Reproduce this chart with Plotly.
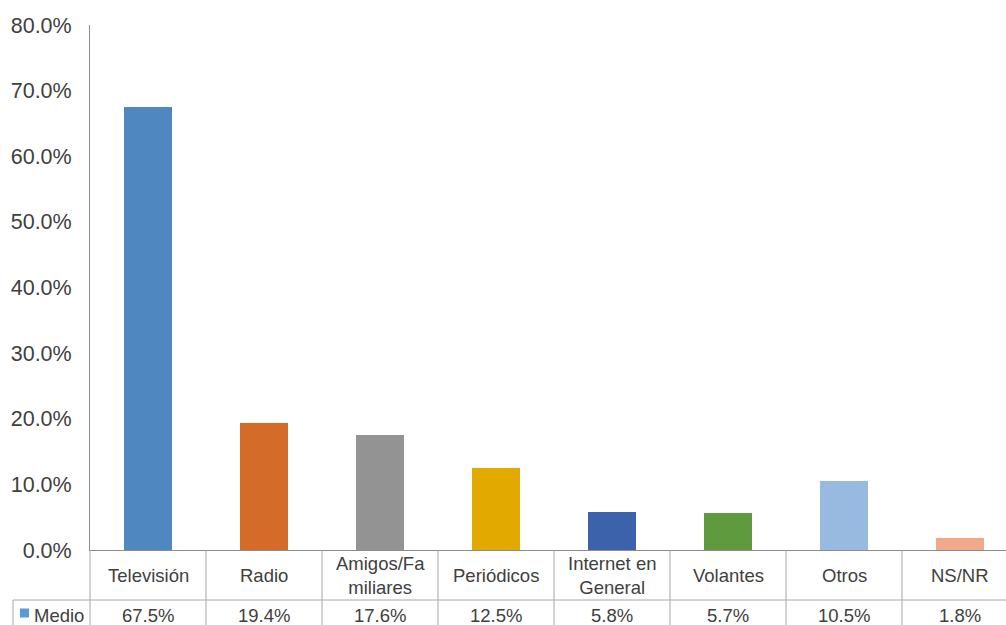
import plotly.graph_objects as go

categories = ["Televisión", "Radio", "Amigos/Familiares", "Periódicos",
              "Internet en General", "Volantes", "Otros", "NS/NR"]
table_labels = ["Televisión", "Radio", "Amigos/Fa<br>miliares", "Periódicos",
                "Internet en<br>General", "Volantes", "Otros", "NS/NR"]
values = [67.5, 19.4, 17.6, 12.5, 5.8, 5.7, 10.5, 1.8]
series_name = "Medio"
bar_colors = ["#4F88C0", "#D46B29", "#939393", "#E2A900",
              "#3C62AC", "#5F9A3E", "#98B9E0", "#F2A98A"]
y_ticks = [0, 10, 20, 30, 40, 50, 60, 70, 80]

W, H = 1006, 625
L, T, B = 90, 25, 75
plot_w = W - L
plot_h = H - T - B
cat_w = 116  # pixels per category
x_max = -0.5 + plot_w / cat_w

def py(ypx):
    return (H - B - ypx) / plot_h

def px_x(xpx):
    return (xpx - L) / plot_w

text_color = "#404040"
line_color = "#A6A6A6"
font = "Liberation Sans, Arial, sans-serif"

fig = go.Figure()
fig.add_trace(go.Bar(
    x=list(range(len(categories))), y=values, name=series_name,
    marker=dict(color=bar_colors, line=dict(width=0)),
    width=0.41, showlegend=False,
    hovertext=categories,
))

shapes = []
# horizontal lines of the data table
shapes.append(dict(type="line", xref="paper", yref="paper",
                   x0=px_x(13), x1=1.0, y0=py(600), y1=py(600),
                   line=dict(color=line_color, width=1)))
shapes.append(dict(type="line", xref="paper", yref="paper",
                   x0=px_x(13), x1=px_x(13), y0=py(600), y1=py(630),
                   line=dict(color=line_color, width=1)))
# vertical separators between categories
for k in range(1, len(categories)):
    xp = (k * cat_w) / plot_w
    if xp <= 1:
        shapes.append(dict(type="line", xref="paper", yref="paper",
                           x0=xp, x1=xp, y0=py(550), y1=py(630),
                           line=dict(color=line_color, width=1)))
shapes.append(dict(type="line", xref="paper", yref="paper",
                   x0=0, x1=0, y0=py(550), y1=py(630),
                   line=dict(color=line_color, width=1)))
# legend key
shapes.append(dict(type="rect", xref="paper", yref="paper",
                   x0=px_x(20), x1=px_x(29), y0=py(617.5), y1=py(608.5),
                   fillcolor="#5B9BD5", line=dict(width=0)))

annotations = []
for i, (lab, v) in enumerate(zip(table_labels, values)):
    annotations.append(dict(x=i, xref="x", y=py(575), yref="paper",
                            text=lab, showarrow=False, yanchor="middle",
                            xanchor="center",
                            font=dict(family=font, size=18.5, color=text_color)))
    annotations.append(dict(x=i, xref="x", y=py(615), yref="paper",
                            text=f"{v:.1f}%", showarrow=False, yanchor="middle",
                            xanchor="center",
                            font=dict(family=font, size=18.5, color=text_color)))
annotations.append(dict(x=px_x(32), xref="paper", y=py(615), yref="paper",
                        text=series_name, showarrow=False, yanchor="middle",
                        xanchor="left",
                        font=dict(family=font, size=18.5, color=text_color)))

fig.update_layout(
    width=W, height=H,
    margin=dict(l=L, r=0, t=T, b=B, pad=0),
    paper_bgcolor="white", plot_bgcolor="white",
    shapes=shapes, annotations=annotations,
    bargap=0,
)
fig.update_xaxes(range=[-0.5, x_max], showticklabels=False, showgrid=False,
                 zeroline=False, showline=True, linecolor="#8C8C8C", linewidth=1,
                 ticks="", fixedrange=True)
fig.update_yaxes(range=[0, 80], tickvals=y_ticks,
                 ticktext=[f"{t:.1f}%" for t in y_ticks],
                 showgrid=False, zeroline=False, showline=True,
                 linecolor="#8C8C8C", linewidth=1, ticks="",
                 ticklabelstandoff=13,
                 tickfont=dict(family=font, size=21.5, color=text_color))

fig.write_html("out.html")
